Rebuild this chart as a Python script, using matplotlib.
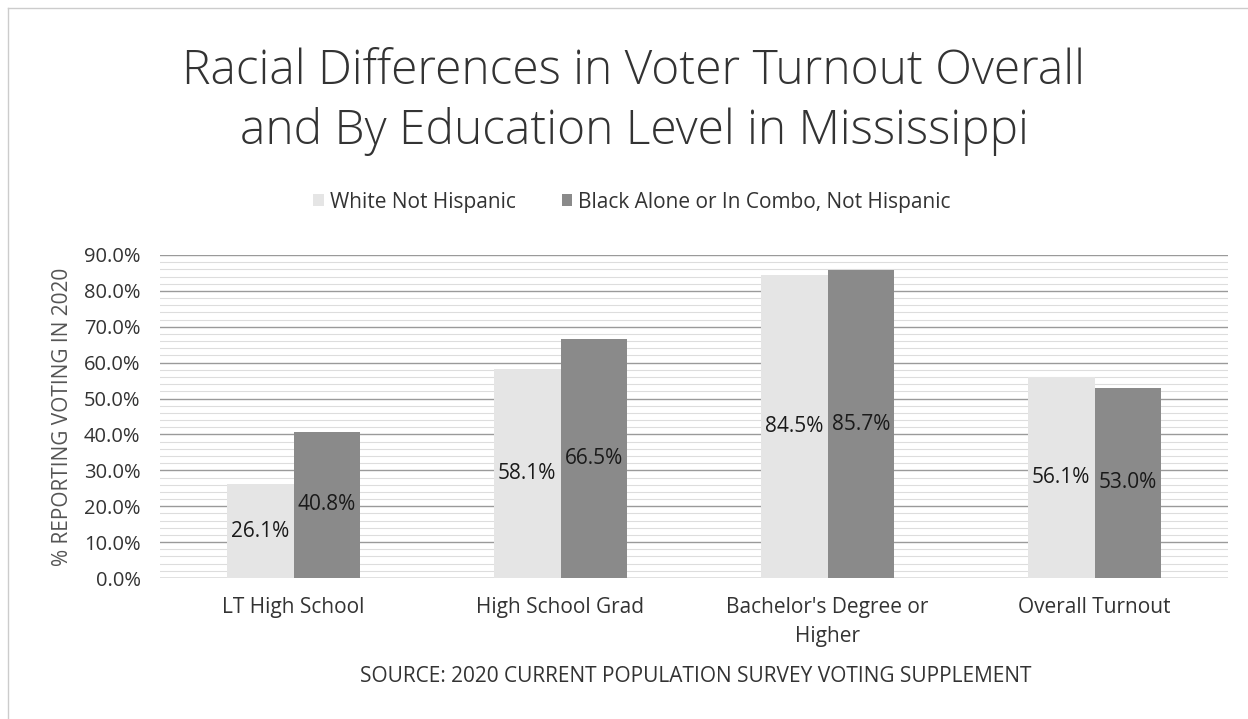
import matplotlib
matplotlib.use("Agg")
import matplotlib.pyplot as plt
import numpy as np
from matplotlib.ticker import MultipleLocator, FuncFormatter

categories = ["LT High School", "High School Grad", "Bachelor's Degree or\nHigher", "Overall Turnout"]
series_names = ["White Not Hispanic", "Black Alone or In Combo, Not Hispanic"]
white_values = [26.1, 58.1, 84.5, 56.1]
black_values = [40.8, 66.5, 85.7, 53.0]

plt.rcParams['font.family'] = ['Open Sans', 'DejaVu Sans']

fig = plt.figure(figsize=(12.48, 7.19), dpi=100)
ax = fig.add_axes([160/1248, 1-578/719, 1068/1248, (578-255)/719])

x = np.arange(len(categories))
w = 0.25
colors = ["#e5e5e5", "#8a8a8a"]
b1 = ax.bar(x - w/2, white_values, w, color=colors[0], label=series_names[0], zorder=3)
b2 = ax.bar(x + w/2, black_values, w, color=colors[1], label=series_names[1], zorder=3)

for bars in (b1, b2):
    for r in bars:
        h = r.get_height()
        ax.text(r.get_x() + r.get_width()/2, h/2, f"{h:.1f}%", ha="center", va="center",
                fontsize=15, color="#1a1a1a", zorder=4)

ax.set_ylim(0, 90)
ax.set_xlim(-0.5, 3.5)
ax.yaxis.set_major_locator(MultipleLocator(10))
ax.yaxis.set_minor_locator(MultipleLocator(2))
ax.yaxis.set_major_formatter(FuncFormatter(lambda v, p: f"{v:.1f}%"))
ax.grid(axis="y", which="major", color="#9a9a9a", linewidth=1.0, zorder=0)
ax.grid(axis="y", which="minor", color="#dddddd", linewidth=0.8, zorder=0)
for s in ax.spines.values():
    s.set_visible(False)
ax.axhline(0, color="#bbbbbb", linewidth=1, zorder=2)
ax.tick_params(axis="both", which="both", length=0, colors="#333333")
ax.tick_params(axis="y", pad=14, labelsize=14.5)
ax.tick_params(axis="x", pad=14)
ax.set_xticks(x)
ax.set_xticklabels(categories, fontsize=15, color="#333333", linespacing=1.5)
ax.set_ylabel("% REPORTING VOTING IN 2020", fontsize=15, color="#555555", labelpad=8)

fig.text(634/1248, 1-102/719, "Racial Differences in Voter Turnout Overall\nand By Education Level in Mississippi",
         ha="center", va="center", fontsize=34.5, color="#333333", linespacing=1.3, fontweight="light")

fig.legend(handles=[b1, b2], labels=series_names, loc="center", bbox_to_anchor=(632/1248, 1-202/719),
           ncol=2, frameon=False, fontsize=15, handlelength=0.5, handleheight=0.5,
           columnspacing=2.2, handletextpad=0.3, labelcolor="#333333")

fig.text(696/1248, 1-677/719, "SOURCE: 2020 CURRENT POPULATION SURVEY VOTING SUPPLEMENT",
         ha="center", va="center", fontsize=15, color="#333333")

# outer frame
fig.add_artist(plt.Line2D([8/1248, 1], [1-8/719, 1-8/719], transform=fig.transFigure, color="#cccccc", lw=1))
fig.add_artist(plt.Line2D([8/1248, 8/1248], [0, 1-8/719], transform=fig.transFigure, color="#cccccc", lw=1))

fig.savefig("out.png", dpi=100)
